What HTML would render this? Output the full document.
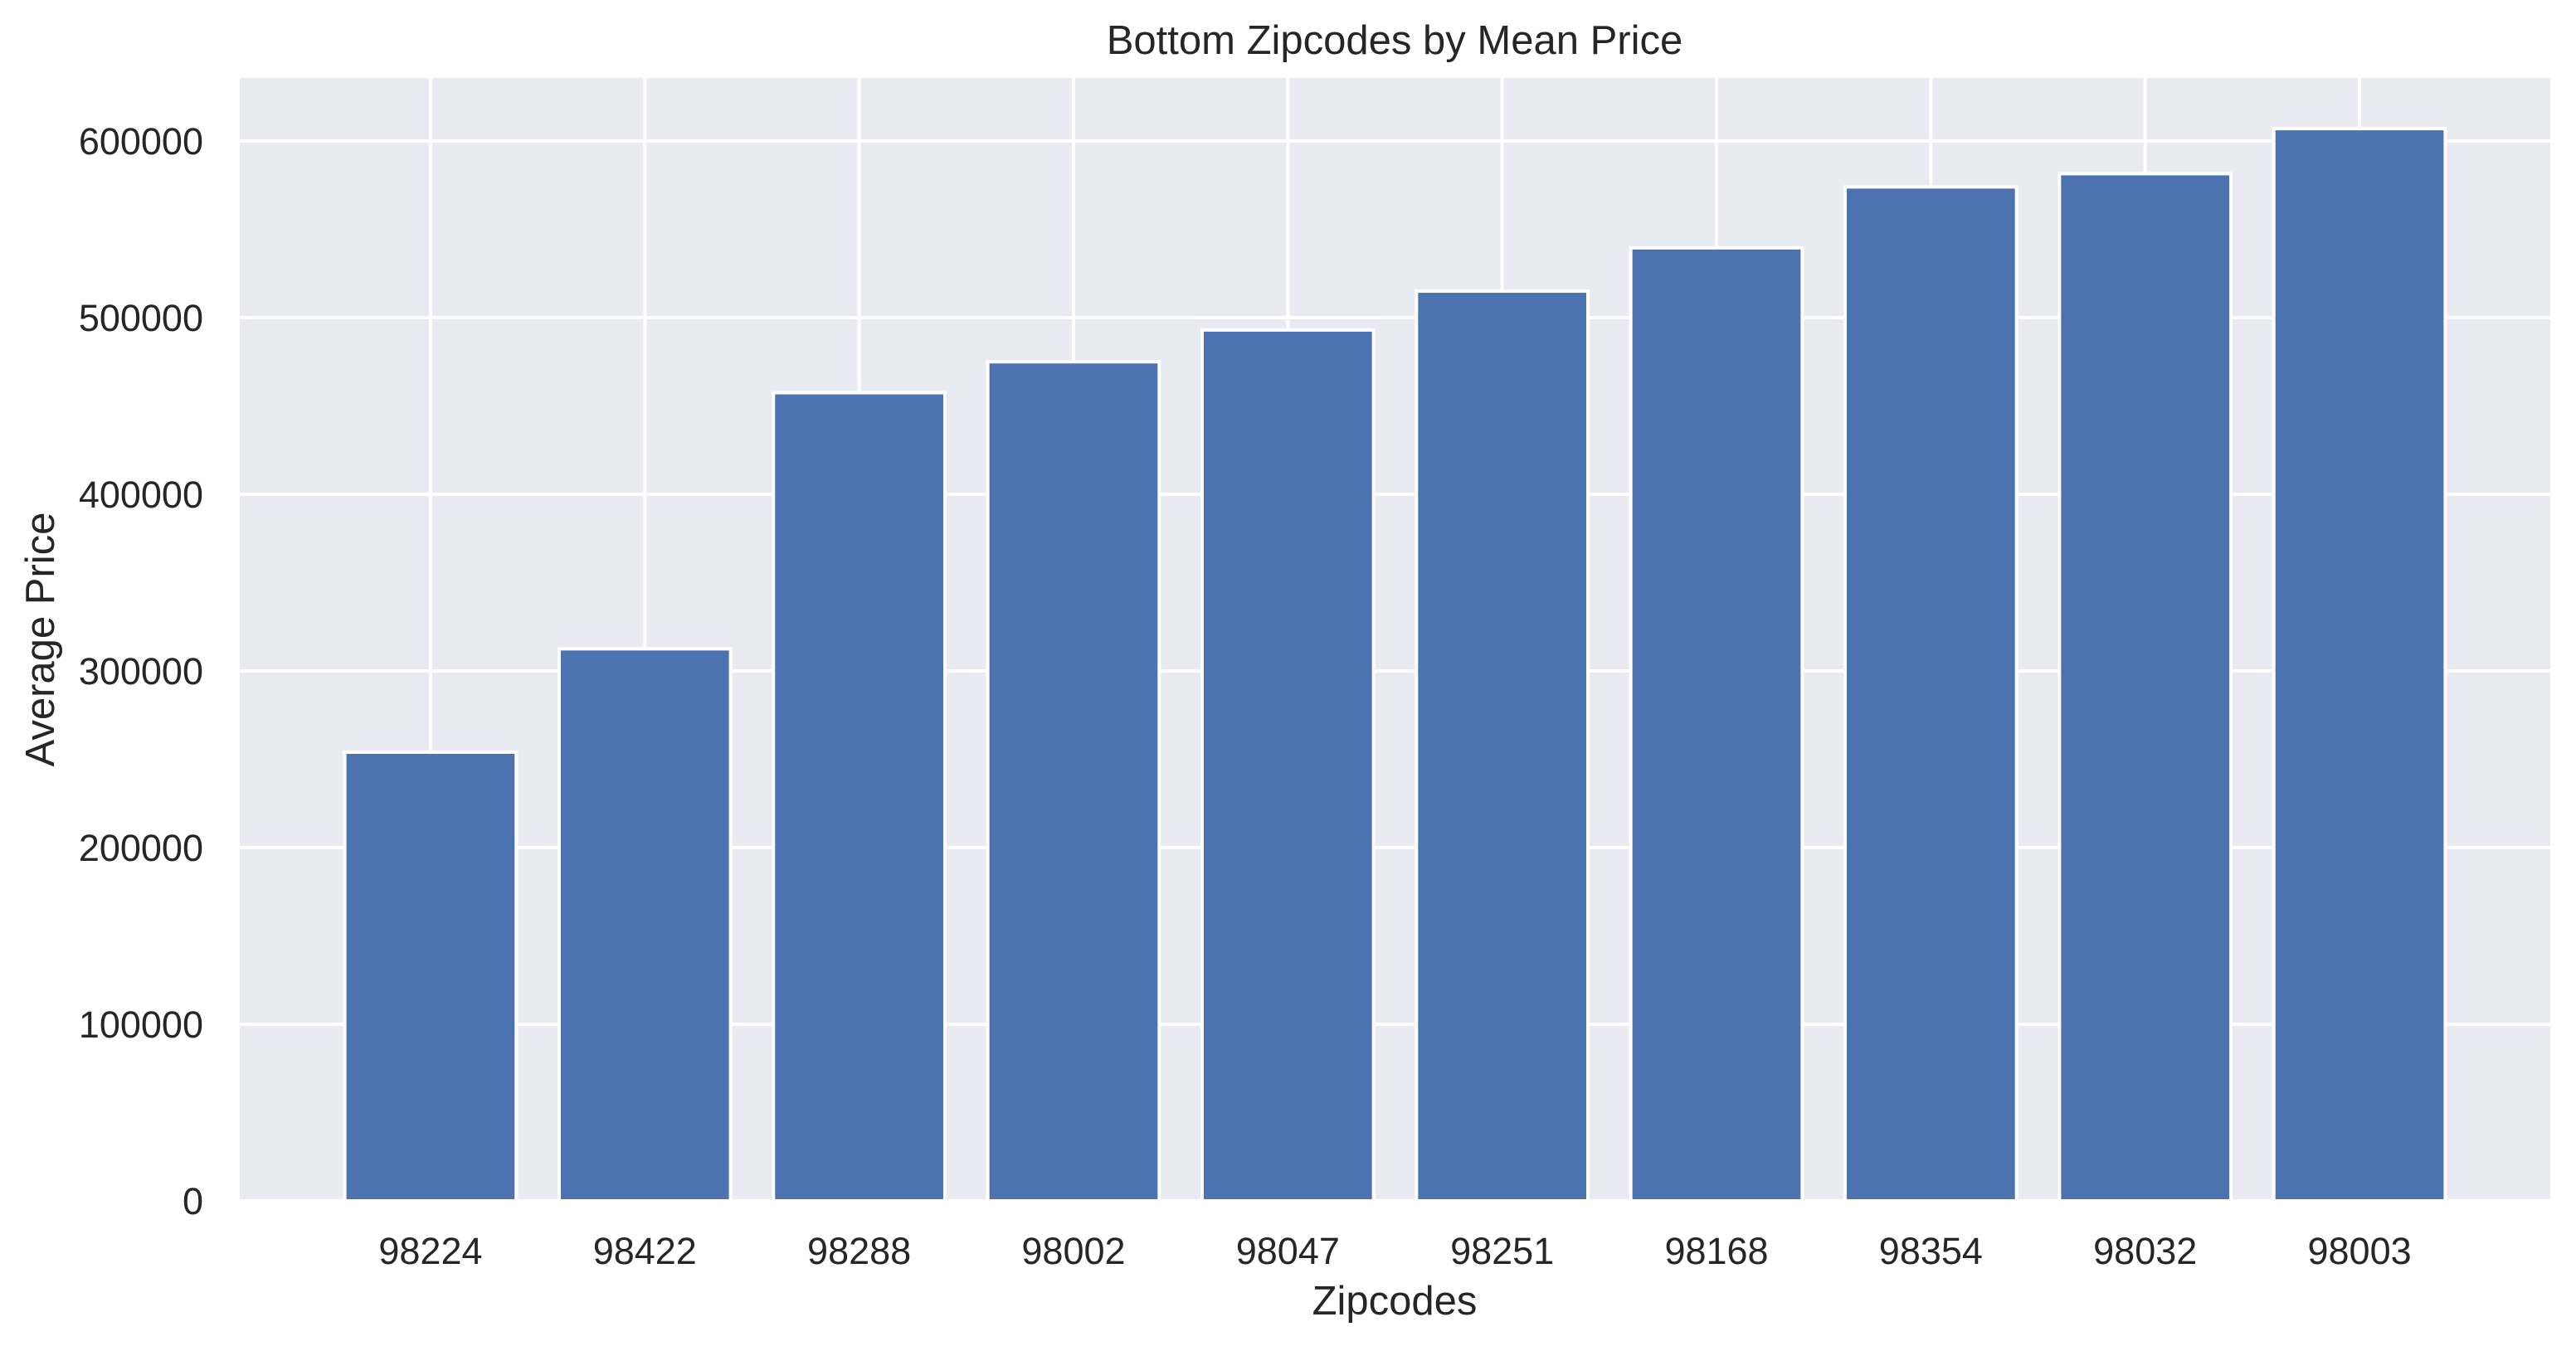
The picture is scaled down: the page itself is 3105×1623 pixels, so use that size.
<!DOCTYPE html>
<html><head><meta charset="utf-8"><style>
html,body{margin:0;padding:0;background:#fff;}
svg{display:block;font-family:"Liberation Sans",Arial,sans-serif;}
</style></head><body>
<svg id="chart" width="3105" height="1623" xmlns="http://www.w3.org/2000/svg">
<rect x="289" y="94" width="2785" height="1354" fill="#eaeaf2"/>
<g id="grid"></g>
<g id="bars"></g>
<g id="xticks"></g>
<g id="yticks"></g>
<text x="1681" y="65" text-anchor="middle" font-size="49" fill="#262626">Bottom Zipcodes by Mean Price</text>
<text x="1681" y="1585" text-anchor="middle" font-size="49" fill="#262626">Zipcodes</text>
<text transform="translate(65,771) rotate(-90)" text-anchor="middle" font-size="49" fill="#262626">Average Price</text>
</svg>
<script>
const categories = ["98224","98422","98288","98002","98047","98251","98168","98354","98032","98003"];
const values = [254000,312500,457500,475000,493000,515000,539500,574000,581500,607000];
const yTicks = [0,100000,200000,300000,400000,500000,600000];
const yTickLabels = ["0","100000","200000","300000","400000","500000","600000"];

const L=289,R=3074,T=94,B=1448;
const xMin=-0.89,xMax=categories.length-1+0.89;
const yMax=(B-T)/213*100000;
const xs=i=>L+(i-xMin)/(xMax-xMin)*(R-L);
const ys=v=>B-v/yMax*(B-T);
const ns="http://www.w3.org/2000/svg";
function mk(tag,attrs,parent,txt){const e=document.createElementNS(ns,tag);for(const k in attrs)e.setAttribute(k,attrs[k]);if(txt!==undefined)e.textContent=txt;parent.appendChild(e);return e;}
const grid=document.getElementById('grid'),bars=document.getElementById('bars'),xt=document.getElementById('xticks'),yt=document.getElementById('yticks');
const unit=xs(1)-xs(0);
yTicks.forEach((v,i)=>{
  const y=ys(v);
  const g=mk('line',{x1:L,x2:R,y1:y,y2:y,stroke:'#fff','stroke-width':4},grid);
  
  
  const t=mk('text',{x:245,y:y+16,'text-anchor':'end','font-size':45,fill:'#262626'},yt,yTickLabels[i]);
  
  
});
categories.forEach((c,i)=>{
  const x=xs(i);
  const g=mk('line',{x1:x,x2:x,y1:T,y2:B,stroke:'#fff','stroke-width':4},grid);
  
  
  const w=unit*0.8;
  const b=mk('rect',{x:x-w/2,y:ys(values[i]),width:w,height:B-ys(values[i]),fill:'#4c72b0',stroke:'#fff','stroke-width':4},bars);
  
  
  const t=mk('text',{x:x,y:1524,'text-anchor':'middle','font-size':45,fill:'#262626'},xt,c);
  
  
});
</script>
</body></html>
